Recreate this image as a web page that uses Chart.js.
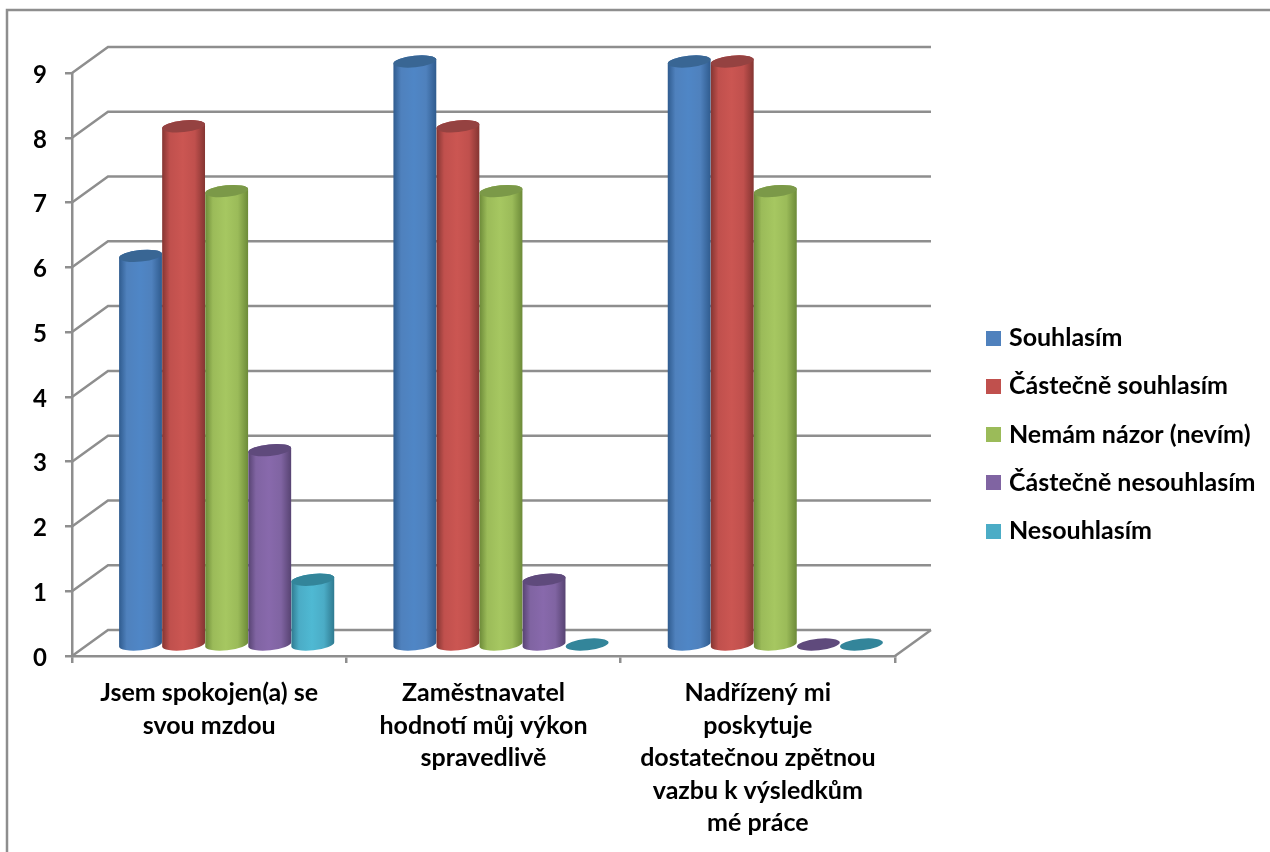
<!DOCTYPE html>
<html lang="cs">
<head>
<meta charset="utf-8">
<title>Spokojenost zaměstnanců</title>
<script src="https://cdn.jsdelivr.net/npm/chart.js@4/dist/chart.umd.js"></script>
<style>
  html, body { margin: 0; padding: 0; background: #fff; }
  canvas { display: block; }
</style>
</head>
<body>
<canvas id="graf" width="1270" height="852"></canvas>
<script>
// Data grafu
const kategorie = [
  ['Jsem spokojen(a) se', 'svou mzdou'],
  ['Zaměstnavatel', 'hodnotí můj výkon', 'spravedlivě'],
  ['Nadřízený mi', 'poskytuje', 'dostatečnou zpětnou', 'vazbu k výsledkům', 'mé práce']
];
const nazvyRad = ['Souhlasím', 'Částečně souhlasím', 'Nemám názor (nevím)', 'Částečně nesouhlasím', 'Nesouhlasím'];
const souhlasim = [6, 9, 9];
const castecneSouhlasim = [8, 8, 9];
const nemamNazor = [7, 7, 7];
const castecneNesouhlasim = [3, 1, 0];
const nesouhlasim = [1, 0, 0];
const hodnotyRad = [souhlasim, castecneSouhlasim, nemamNazor, castecneNesouhlasim, nesouhlasim];

const barvyRad = ['#4f81bd', '#c0504d', '#9bbb59', '#8064a2', '#4bacc6'];
const svetleBarvy = ['#4f86c6', '#cb5652', '#a6c761', '#8869ac', '#4fb9d3'];
const tmaveBarvy = ['#2f5b8e', '#843532', '#6c8a38', '#574372', '#2f7a90'];
const barvyVrsku = ['#396694', '#954241', '#7b9948', '#5f4a7c', '#33859a'];

const SEDA = '#8e8e8e';
const PISMO = 'Lato, sans-serif';

// posun zadní stěny a středu válců oproti přední rovině os
const HLOUBKA_X = 36;
const HLOUBKA_Y = -26;
const STRED_X = 17.5;
const STRED_Y = -11.5;
const RY = 5.8;
const NATOCENI = -0.1;

function cara(ctx, body) {
  ctx.beginPath();
  body.forEach((b, i) => i ? ctx.lineTo(b[0], b[1]) : ctx.moveTo(b[0], b[1]));
  ctx.stroke();
}

// čtvereček do legendy, aby text mohl začínat blíž než u běžného rámečku
function ctverecek(barva) {
  const c = document.createElement('canvas');
  c.width = c.height = 15;
  const g = c.getContext('2d');
  g.fillStyle = barva;
  g.fillRect(0, 0, 15, 15);
  return c;
}

function valec(ctx, x, yHore, yDole, rx, r) {
  if (yDole - yHore > 0.5) {
    const g = ctx.createLinearGradient(x - rx, 0, x + rx, 0);
    g.addColorStop(0, tmaveBarvy[r]);
    g.addColorStop(0.18, barvyRad[r]);
    g.addColorStop(0.48, svetleBarvy[r]);
    g.addColorStop(0.76, barvyRad[r]);
    g.addColorStop(1, tmaveBarvy[r]);
    ctx.fillStyle = g;
    ctx.beginPath();
    ctx.ellipse(x, yDole, rx, RY, NATOCENI, 0, Math.PI);
    ctx.ellipse(x, yHore, rx, RY, NATOCENI, Math.PI, Math.PI * 2);
    ctx.closePath();
    ctx.fill();
  }
  ctx.fillStyle = barvyVrsku[r];
  ctx.beginPath();
  ctx.ellipse(x, yHore, rx, RY, NATOCENI, 0, Math.PI * 2);
  ctx.fill();
}

// stěny, rám a válce se kreslí místo plochých sloupců
const prostorovyGraf = {
  id: 'prostorovyGraf',
  beforeDatasetsDraw(chart) {
    const { ctx, chartArea: a, scales } = chart;
    ctx.save();
    ctx.strokeStyle = SEDA;
    ctx.lineWidth = 2.5;

    cara(ctx, [[7, 852], [7, 10], [1270, 10]]);

    scales.y.ticks.forEach(t => {
      const y = scales.y.getPixelForValue(t.value);
      cara(ctx, [[a.left, y], [a.left + HLOUBKA_X, y + HLOUBKA_Y], [a.right + HLOUBKA_X, y + HLOUBKA_Y]]);
    });
    cara(ctx, [[a.right, a.bottom], [a.right + HLOUBKA_X, a.bottom + HLOUBKA_Y]]);

    const zaklad = scales.y.getPixelForValue(0) + STRED_Y;
    chart.data.datasets.forEach((ds, r) => {
      chart.getDatasetMeta(r).data.forEach(bar => {
        valec(ctx, bar.x + STRED_X, bar.y + STRED_Y, zaklad, bar.width / 2, r);
      });
    });
    ctx.restore();
    return false;
  }
};

new Chart(document.getElementById('graf'), {
  type: 'bar',
  data: {
    labels: kategorie,
    datasets: nazvyRad.map((nazev, r) => ({
      label: nazev,
      data: hodnotyRad[r],
      backgroundColor: barvyRad[r],
      pointStyle: ctverecek(barvyRad[r]),
      borderWidth: 0
    }))
  },
  options: {
    responsive: false,
    animation: false,
    devicePixelRatio: 1,
    layout: { padding: { top: 17, bottom: 0, left: 0, right: 4.5 } },
    datasets: { bar: { categoryPercentage: 0.785, barPercentage: 1 } },
    plugins: {
      tooltip: { enabled: false },
      legend: {
        position: 'right',
        maxWidth: 400,
        labels: {
          usePointStyle: true,
          pointStyleWidth: 6,
          boxHeight: 15,
          padding: 23.25,
          color: '#000',
          font: { family: PISMO, size: 25, weight: 'bold' }
        }
      }
    },
    scales: {
      x: {
        afterFit: s => { s.height = 196; },
        grid: { drawOnChartArea: false, tickLength: 7, color: SEDA, lineWidth: 2.5 },
        border: { color: SEDA, width: 2.5 },
        ticks: {
          color: '#000',
          maxRotation: 0,
          autoSkip: false,
          padding: 14,
          font: { family: PISMO, size: 25, weight: 'bold', lineHeight: 1.3 }
        }
      },
      y: {
        min: 0,
        max: 9,
        afterFit: s => { s.width = 72; },
        grid: { drawOnChartArea: false, tickLength: 7, color: SEDA, lineWidth: 2.5 },
        border: { color: SEDA, width: 2.5 },
        ticks: {
          stepSize: 1,
          color: '#000',
          padding: 18,
          labelOffset: 2,
          font: { family: PISMO, size: 24, weight: 'bold' }
        }
      },
      // prázdné osy drží mezeru nad grafem a mezi grafem a legendou
      mezera: {
        position: 'right',
        afterFit: s => { s.width = 72.25; },
        grid: { display: false },
        border: { display: false },
        ticks: { display: false }
      },
      mezeraNahore: {
        position: 'top',
        afterFit: s => { s.height = 56; },
        grid: { display: false },
        border: { display: false },
        ticks: { display: false }
      }
    }
  },
  plugins: [prostorovyGraf]
});
</script>
</body>
</html>
